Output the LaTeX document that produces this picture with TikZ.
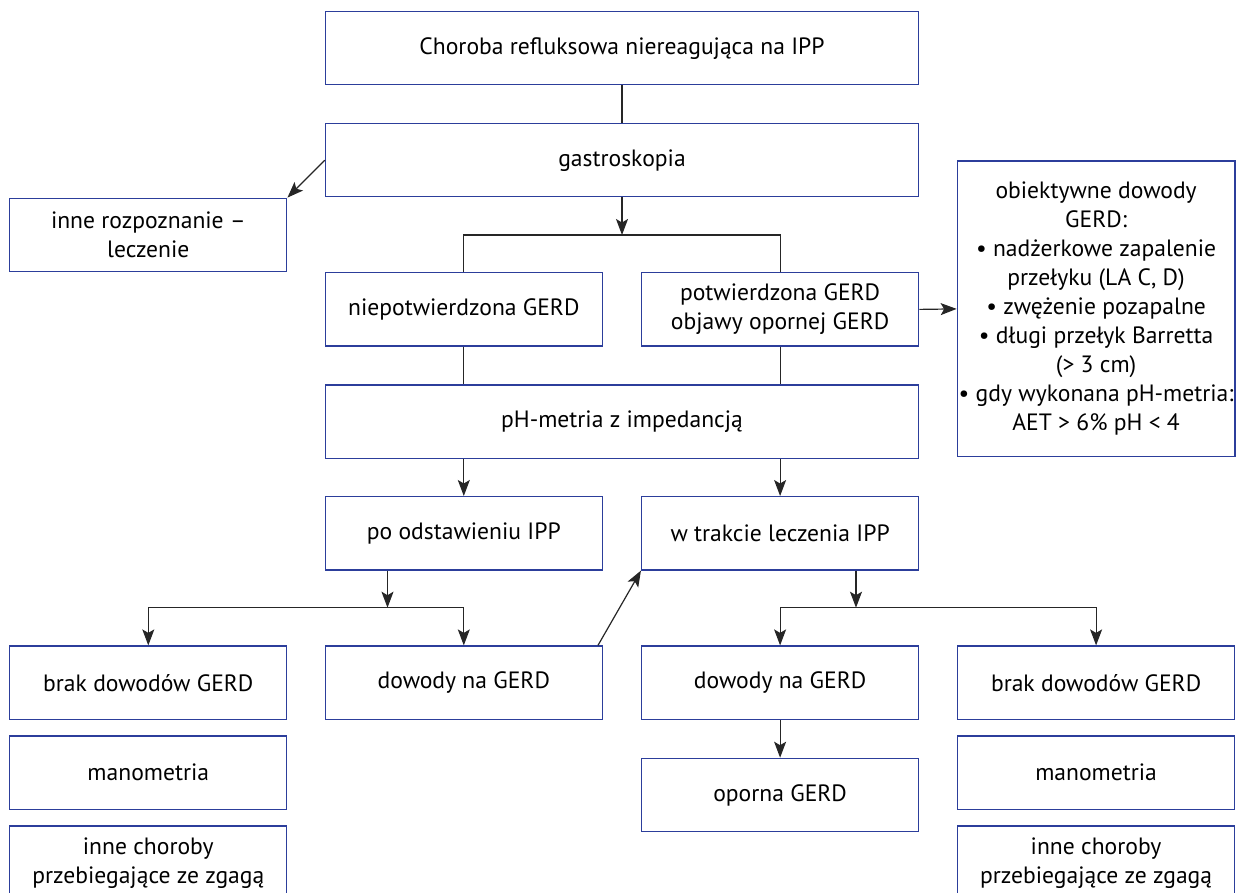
\documentclass[tikz,border=0pt]{standalone}
\usepackage{fontspec}
\setmainfont{PT Sans}
\usetikzlibrary{arrows.meta}
\definecolor{boxblue}{RGB}{44,62,155}
\begin{document}
\begin{tikzpicture}[x=1pt,y=-1pt,
  box/.style={draw=boxblue,line width=1.3pt,minimum width=277pt,minimum height=73.3pt,inner sep=0pt,align=center,font=\fontsize{23.6}{29}\selectfont},
  wide/.style={box,minimum width=593pt},
  conn/.style={line width=1.2pt,draw=black!85},
  arr/.style={conn,-{Stealth[length=16pt,width=12pt,inset=3.5pt]}}]
\useasboundingbox (0,0) rectangle (1239,893);
\clip (0,0) rectangle (1239,893);
\node[wide] (top) at (622,48.2) {Choroba refluksowa niereagująca na IPP};
\node[wide] (gastro) at (622,160.2) {gastroskopia};
\node[box] (inne) at (148.3,234.9) {inne rozpoznanie –\\leczenie};
\node[box] (niepotw) at (463.8,309.4) {niepotwierdzona GERD};
\node[box] (potw) at (780.1,309.4) {potwierdzona GERD\\objawy opornej GERD};
\node[box,minimum width=277.6pt,minimum height=295.7pt] (obiekt) at (1096.1,308.9) {obiektywne dowody\\GERD:\\• nadżerkowe zapalenie\\przełyku (LA C, D)\\• zwężenie pozapalne\\• długi przełyk Barretta\\(> 3 cm)\\• gdy wykonana pH-metria:\\AET > 6\% pH < 4};
\node[wide] (ph) at (622,421.5) {pH-metria z impedancją};
\node[box] (po) at (463.8,533.3) {po odstawieniu IPP};
\node[box] (wtr) at (780.1,533.3) {w trakcie leczenia IPP};
\node[box] (brakL) at (148.3,682.7) {brak dowodów GERD};
\node[box] (dowL) at (463.8,682.7) {dowody na GERD};
\node[box] (dowR) at (780.1,682.7) {dowody na GERD};
\node[box] (brakR) at (1096.1,682.7) {brak dowodów GERD};
\node[box] (manL) at (148.3,772.7) {manometria};
\node[box] (oporna) at (780.1,795) {oporna GERD};
\node[box] (manR) at (1096.1,772.7) {manometria};
\node[box] (inneL) at (148.3,862.7) {inne choroby\\przebiegające ze zgagą};
\node[box] (inneR) at (1096.1,862.7) {inne choroby\\przebiegające ze zgagą};
\coordinate (b1) at (622,235);
\coordinate (b2) at (387.5,607.7);
\coordinate (b3) at (856,607.7);
\draw[conn] (top.south) -- (gastro.north);
\draw[arr] (gastro.west) -- (inne.north east);
\draw[arr] (gastro.south) -- (b1);
\draw[conn] (niepotw.north) |- (b1) -| (potw.north);
\draw[arr] (potw.east) -- (obiekt.west);
\draw[conn] (niepotw.south) -- (niepotw.south |- ph.north);
\draw[conn] (potw.south) -- (potw.south |- ph.north);
\draw[arr] (po.north |- ph.south) -- (po.north);
\draw[arr] (wtr.north |- ph.south) -- (wtr.north);
\draw[arr] (b2 |- po.south) -- (b2);
\draw[arr] (b2) -| (brakL.north);
\draw[arr] (b2) -| (dowL.north);
\draw[arr] ([xshift=-5pt]dowL.north east) -- (wtr.south west);
\draw[arr] (b3 |- wtr.south) -- (b3);
\draw[arr] (b3) -| (dowR.north);
\draw[arr] (b3) -| (brakR.north);
\draw[arr] (dowR.south) -- (oporna.north);
\end{tikzpicture}
\end{document}
